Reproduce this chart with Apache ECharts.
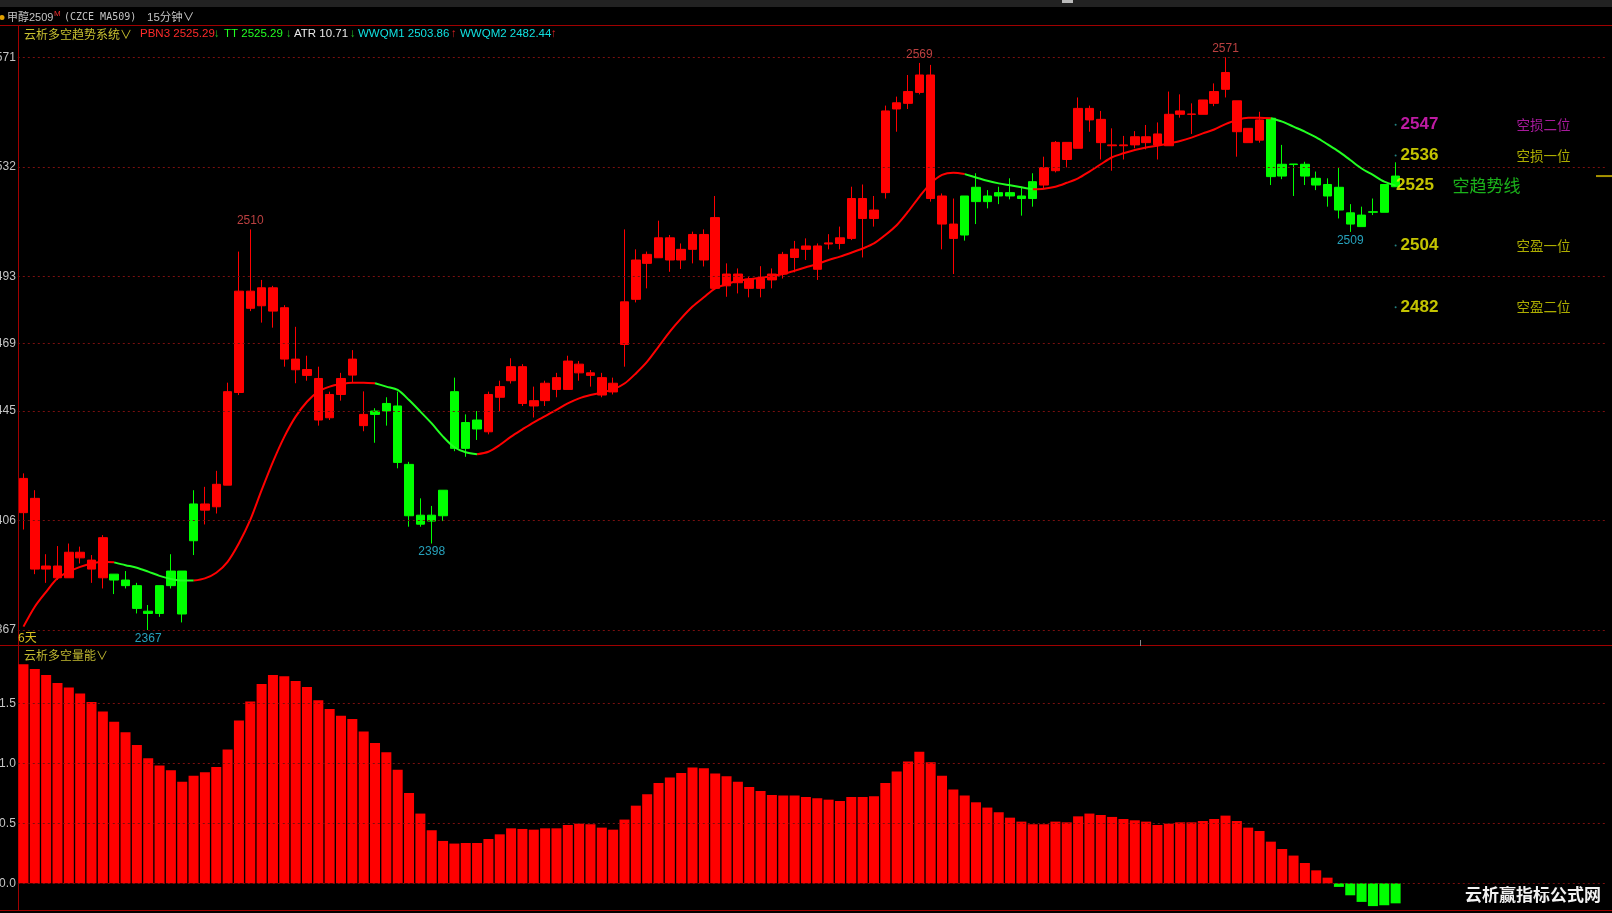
<!DOCTYPE html>
<html><head><meta charset="utf-8">
<script src="https://cdn.jsdelivr.net/npm/echarts@6/dist/echarts.min.js"></script>
<style>html,body{margin:0;padding:0;background:#000;overflow:hidden}#c{width:1612px;height:913px}</style>
</head><body><div id="c"></div>
<script>
// ---- data ----
const bodyHigh = [2421.0,2413.9,2389.8,2389.8,2394.7,2394.7,2391.9,2399.9,2386.9,2384.8,2382.8,2373.7,2382.8,2388.0,2388.0,2411.9,2411.9,2418.9,2451.9,2487.7,2487.7,2488.9,2488.9,2481.8,2463.5,2459.8,2456.6,2450.9,2456.6,2463.5,2443.8,2445.0,2447.7,2446.8,2426.0,2407.9,2407.9,2416.8,2451.9,2440.9,2441.8,2450.9,2453.7,2460.8,2460.8,2448.7,2454.9,2456.9,2462.8,2461.7,2458.6,2456.9,2454.9,2483.9,2498.8,2500.8,2506.7,2506.7,2502.6,2507.9,2507.9,2513.9,2493.8,2493.8,2492.0,2492.2,2493.8,2500.8,2502.7,2503.8,2503.8,2504.9,2506.7,2520.7,2520.7,2516.6,2551.9,2554.8,2558.8,2564.7,2564.7,2521.6,2511.6,2521.6,2524.7,2521.6,2522.8,2522.8,2521.6,2526.7,2531.7,2540.7,2540.7,2552.8,2552.8,2548.9,2539.8,2539.8,2542.7,2542.7,2543.7,2550.7,2551.9,2550.8,2555.8,2558.8,2565.6,2555.5,2545.7,2548.7,2549.3,2532.9,2533.0,2532.9,2527.9,2525.7,2524.7,2515.6,2514.8,2516.0,2525.7,2528.7];
const bodyLow = [2408.8,2388.7,2388.7,2385.6,2385.6,2392.7,2388.7,2385.6,2384.8,2382.8,2374.7,2372.9,2372.9,2382.8,2372.7,2398.8,2409.7,2410.9,2418.6,2451.6,2481.6,2482.5,2480.6,2463.5,2459.7,2457.7,2441.8,2442.6,2450.9,2457.8,2439.8,2443.8,2445.0,2426.7,2407.7,2404.7,2405.8,2407.7,2431.7,2431.7,2438.6,2437.6,2449.9,2455.8,2447.7,2446.8,2448.7,2452.7,2452.7,2458.6,2457.7,2450.7,2451.8,2468.7,2484.8,2497.6,2499.6,2498.8,2498.8,2502.6,2498.8,2488.7,2489.6,2490.7,2488.7,2488.7,2491.7,2493.8,2499.7,2502.6,2495.5,2504.5,2504.7,2506.5,2513.6,2513.6,2522.8,2552.6,2554.6,2558.5,2520.7,2511.6,2506.5,2507.7,2519.6,2519.6,2521.6,2521.6,2520.7,2520.7,2525.5,2530.6,2534.6,2538.6,2548.7,2540.6,2539.5,2539.5,2539.8,2540.6,2539.8,2539.5,2550.7,2550.7,2550.7,2554.6,2559.6,2544.5,2540.6,2541.5,2528.5,2528.7,2532.8,2528.7,2525.5,2521.6,2516.6,2511.6,2510.7,2515.8,2515.8,2524.9];
const high = [2422.8,2416.8,2394.0,2396.9,2397.8,2396.7,2393.7,2400.8,2386.9,2388.0,2383.8,2375.9,2382.8,2394.0,2388.0,2416.8,2418.0,2423.7,2455.1,2501.8,2509.7,2491.7,2489.6,2482.7,2475.0,2464.7,2460.8,2451.9,2458.6,2466.7,2452.0,2446.0,2449.9,2451.9,2426.9,2413.9,2411.2,2416.8,2456.9,2443.8,2445.0,2451.9,2455.8,2463.8,2461.7,2453.7,2455.8,2458.6,2464.7,2462.8,2459.6,2458.6,2456.9,2509.7,2502.6,2501.8,2512.8,2507.7,2504.7,2508.9,2509.7,2521.6,2497.6,2495.8,2492.8,2496.6,2495.8,2501.7,2505.6,2506.5,2504.7,2508.0,2510.7,2524.9,2525.7,2521.6,2553.8,2557.0,2564.7,2569.0,2568.3,2522.5,2520.7,2521.6,2529.7,2523.7,2524.9,2527.9,2524.9,2529.7,2535.6,2541.2,2540.7,2556.7,2553.8,2551.9,2545.7,2543.0,2544.7,2546.9,2547.8,2558.8,2557.8,2554.6,2555.8,2561.7,2571.0,2555.5,2545.7,2551.6,2549.3,2539.8,2533.0,2533.8,2530.3,2527.9,2531.8,2518.7,2517.8,2520.7,2525.7,2533.6];
const low = [2402.8,2386.9,2383.8,2384.8,2385.6,2390.7,2383.8,2381.8,2379.8,2381.8,2372.9,2367.0,2371.7,2381.8,2369.7,2393.7,2404.6,2408.5,2418.6,2450.7,2480.6,2476.5,2474.7,2460.8,2454.9,2455.8,2439.8,2441.8,2448.7,2455.1,2437.8,2433.7,2439.8,2424.6,2403.8,2403.8,2397.8,2405.8,2430.7,2428.7,2434.7,2436.7,2444.8,2454.8,2446.8,2442.7,2446.8,2449.9,2452.7,2455.8,2453.7,2449.9,2450.9,2460.8,2483.7,2488.7,2499.6,2494.6,2495.6,2497.6,2496.5,2488.7,2485.7,2486.9,2485.5,2485.5,2488.7,2492.2,2494.4,2498.8,2491.7,2502.6,2502.6,2505.9,2499.7,2510.7,2520.7,2544.5,2552.6,2557.8,2519.6,2502.6,2493.8,2505.7,2511.6,2517.2,2518.7,2520.4,2514.6,2517.8,2524.3,2530.0,2531.8,2538.6,2544.5,2534.6,2530.6,2534.6,2538.6,2538.2,2534.6,2539.5,2549.5,2543.7,2550.7,2553.6,2556.7,2535.6,2540.6,2540.6,2525.5,2527.6,2521.6,2525.5,2523.7,2517.8,2513.6,2508.8,2510.7,2514.8,2515.8,2524.9];
// 1 = bull state (red), 0 = bear state (green)
const trendUp = [1,1,1,1,1,1,1,1,0,0,0,0,0,0,0,0,1,1,1,1,1,1,1,1,1,1,1,1,1,1,1,0,0,0,0,0,0,0,0,0,0,1,1,1,1,1,1,1,1,1,1,1,1,1,1,1,1,1,1,1,1,1,1,1,1,1,1,1,1,1,1,1,1,1,1,1,1,1,1,1,1,1,1,0,0,0,0,0,0,0,1,1,1,1,1,1,1,1,1,1,1,1,1,1,1,1,1,1,1,1,0,0,0,0,0,0,0,0,0,0,0,0];
const trendLine = [2368.2,2375.3,2380.6,2385.4,2387.8,2389.5,2390.7,2391.3,2391.1,2390.1,2389.2,2387.8,2386.3,2385.2,2384.6,2384.6,2385.4,2387.4,2391.3,2397.9,2406.2,2416.8,2426.9,2435.8,2443.0,2448.3,2451.9,2453.7,2454.6,2455.1,2455.1,2454.9,2453.7,2452.5,2448.9,2444.8,2440.6,2435.9,2432.1,2430.3,2429.6,2430.5,2432.9,2435.9,2438.5,2441.0,2443.2,2445.4,2447.7,2449.5,2450.7,2451.6,2452.7,2454.8,2458.4,2462.6,2467.9,2473.3,2478.0,2482.2,2485.5,2488.7,2490.2,2491.4,2492.0,2492.5,2493.1,2493.8,2495.0,2496.2,2497.4,2498.8,2500.0,2501.4,2502.9,2504.7,2507.7,2511.2,2516.0,2521.3,2526.1,2529.1,2529.9,2529.4,2528.2,2527.0,2526.1,2525.4,2524.7,2524.0,2524.2,2524.9,2526.3,2527.9,2530.3,2532.9,2535.4,2536.8,2538.0,2538.9,2539.5,2540.3,2541.2,2542.4,2543.9,2545.3,2547.2,2548.7,2549.5,2549.5,2549.3,2548.1,2546.3,2544.5,2542.5,2540.0,2537.4,2534.4,2531.4,2529.1,2526.7,2525.3];
const energy = [1.825,1.786,1.736,1.669,1.631,1.581,1.511,1.431,1.347,1.258,1.153,1.042,0.981,0.942,0.847,0.897,0.925,0.969,1.114,1.356,1.514,1.661,1.736,1.725,1.686,1.636,1.525,1.453,1.397,1.369,1.264,1.169,1.092,0.947,0.753,0.581,0.442,0.353,0.331,0.336,0.336,0.369,0.408,0.458,0.453,0.447,0.458,0.458,0.486,0.497,0.492,0.464,0.447,0.531,0.647,0.742,0.836,0.881,0.919,0.964,0.958,0.914,0.892,0.847,0.803,0.769,0.736,0.731,0.731,0.719,0.708,0.697,0.686,0.719,0.719,0.725,0.836,0.931,1.014,1.097,1.008,0.897,0.781,0.731,0.675,0.631,0.592,0.547,0.514,0.492,0.492,0.514,0.508,0.558,0.581,0.569,0.553,0.536,0.525,0.514,0.486,0.497,0.508,0.508,0.519,0.536,0.564,0.519,0.464,0.436,0.347,0.286,0.231,0.169,0.108,0.047,-0.03,-0.10,-0.155,-0.19,-0.183,-0.167];
const priceTicks = [2367, 2406, 2445, 2469, 2493, 2532, 2571];
const energyTicks = [0, 0.5, 1.0, 1.5];
const levelValues = [2547, 2536, 2504, 2482];
const levelNames = ['空损二位', '空损一位', '空盈一位', '空盈二位'];
const trendName = '空趋势线';
const highMarkIdx = [20, 79, 106];
const lowMarkIdx = [11, 36, 117];
const slotCount = 140;

// ---- chart ----
const RED = '#ff0000', GREEN = '#00ff00';
const GRIDC = '#7a1010';
const LAT = '"Liberation Sans", Arial, "Noto Sans CJK SC", sans-serif';
const CJK = '"Noto Sans CJK SC", "Liberation Sans", sans-serif';
const cats = Array.from({length: slotCount}, (_, i) => String(i));

const candleData = bodyHigh.map((h, i) => {
  const c = trendUp[i] ? RED : GREEN;
  return {value: [bodyLow[i], h, low[i], high[i]],
    itemStyle: {color: c, color0: c, borderColor: c, borderColor0: c, borderColorDoji: c}};
});
const redLine = trendLine.map((v, i) => (trendUp[i] || trendUp[i - 1] || trendUp[i + 1]) ? v : '-');
const greenLine = trendLine.map((v, i) => trendUp[i] ? '-' : v);
const energyData = energy.map(v => ({value: v, itemStyle: {color: v >= 0 ? RED : GREEN}}));
const last = bodyHigh.length - 1;

const chart = echarts.init(document.getElementById('c'), null, {renderer: 'canvas'});
const option = {
  backgroundColor: '#000',
  animation: false,
  grid: [
    {left: 17.8, right: 6.6, top: 25, bottom: 268},
    {left: 17.8, right: 6.6, top: 646, bottom: 3}
  ],
  xAxis: [
    {type: 'category', data: cats, gridIndex: 0, show: false, boundaryGap: true},
    {type: 'category', data: cats, gridIndex: 1, show: false, boundaryGap: true}
  ],
  yAxis: [
    {type: 'value', gridIndex: 0, min: 2361.66, max: 2582.51, show: false},
    {type: 'value', gridIndex: 1, min: -0.2225, max: 1.9775, show: false}
  ],
  series: [
    {type: 'line', xAxisIndex: 0, yAxisIndex: 0, data: [], z: 1, silent: true,
      markLine: {symbol: 'none', silent: true, animation: false,
        lineStyle: {color: GRIDC, type: [2, 3], width: 1},
        label: {position: 'start', distance: 2, color: '#c4c4c4', fontSize: 12, fontFamily: LAT,
          formatter: p => String(p.value)},
        data: priceTicks.map(v => ({yAxis: v}))}},
    {type: 'line', xAxisIndex: 1, yAxisIndex: 1, data: [], z: 1, silent: true,
      markLine: {symbol: 'none', silent: true, animation: false,
        lineStyle: {color: GRIDC, type: [2, 3], width: 1},
        label: {position: 'start', distance: 2, color: '#c4c4c4', fontSize: 12, fontFamily: LAT,
          formatter: p => Number(p.value).toFixed(1)},
        data: energyTicks.map(v => ({yAxis: v}))}},
    {type: 'candlestick', xAxisIndex: 0, yAxisIndex: 0, data: candleData, barWidth: 9, z: 3,
      itemStyle: {borderWidth: 1}},
    {type: 'line', xAxisIndex: 0, yAxisIndex: 0, data: redLine, symbol: 'none', smooth: 0.3, z: 4,
      lineStyle: {color: RED, width: 2}},
    {type: 'line', xAxisIndex: 0, yAxisIndex: 0, data: greenLine, symbol: 'none', smooth: 0.3, z: 5,
      lineStyle: {color: '#22ff22', width: 2}},
    {type: 'scatter', xAxisIndex: 0, yAxisIndex: 0, symbolSize: 1, z: 6,
      itemStyle: {color: 'rgba(0,0,0,0)'},
      data: highMarkIdx.map(i => [i, high[i]]),
      label: {show: true, position: 'top', distance: 2, color: '#e85050', fontSize: 12, fontFamily: LAT,
        formatter: p => String(Math.round(p.value[1]))}},
    {type: 'scatter', xAxisIndex: 0, yAxisIndex: 0, symbolSize: 1, z: 6,
      itemStyle: {color: 'rgba(0,0,0,0)'},
      data: lowMarkIdx.map(i => [i, low[i]]),
      label: {show: true, position: 'bottom', distance: 2, color: '#30c8e8', fontSize: 12, fontFamily: LAT,
        formatter: p => String(Math.round(p.value[1]))}},
    {type: 'scatter', xAxisIndex: 0, yAxisIndex: 0, symbol: 'circle', symbolSize: 2, z: 7,
      itemStyle: {color: '#2aa0a0'},
      data: levelValues.map((v, i) => ({value: [last, v],
        label: {color: i === 0 ? '#ee22cc' : '#f4f400'}})),
      label: {show: true, position: 'right', distance: 4, fontSize: 17, fontWeight: 'bold', fontFamily: LAT,
        formatter: p => String(p.value[1])}},
    {type: 'scatter', xAxisIndex: 0, yAxisIndex: 0, symbolSize: 0, z: 7,
      itemStyle: {color: 'rgba(0,0,0,0)'},
      data: levelValues.map((v, i) => ({value: [last, v], name: levelNames[i],
        label: {color: i === 0 ? '#d020c0' : '#d8d800'}})),
      label: {show: true, position: 'right', distance: 121, fontSize: 13.5, fontFamily: CJK,
        formatter: p => p.name}},
    {type: 'scatter', xAxisIndex: 0, yAxisIndex: 0, symbolSize: 0, z: 7,
      itemStyle: {color: 'rgba(0,0,0,0)'},
      data: [[last, trendLine[last]]],
      label: {show: true, position: 'right', distance: 0.5, fontSize: 17, fontWeight: 'bold', fontFamily: LAT,
        color: '#f4f400', formatter: p => String(Math.round(p.value[1]))}},
    {type: 'scatter', xAxisIndex: 0, yAxisIndex: 0, symbolSize: 0, z: 7,
      itemStyle: {color: 'rgba(0,0,0,0)'},
      data: [[last, trendLine[last]]],
      label: {show: true, position: 'right', distance: 57, fontSize: 17, fontFamily: CJK,
        color: '#22dd22', formatter: () => trendName}},
    {type: 'bar', xAxisIndex: 1, yAxisIndex: 1, data: energyData, barWidth: 10, z: 3}
  ]
};
chart.setOption(option);

// ---- decorations ----
const lastY = chart.convertToPixel({yAxisIndex: 0}, bodyHigh[last]);
const legendParts = [
  {x: 24, t: '云析多空趋势系统∨', c: '#c8c030', f: CJK},
  {x: 140, t: 'PBN3 2525.29', c: '#ff2a2a'},
  {x: 214, t: '↓', c: '#22cc22'},
  {x: 224, t: 'TT 2525.29', c: '#22ff22'},
  {x: 286, t: '↓', c: '#22cc22'},
  {x: 294, t: 'ATR 10.71', c: '#e8e8e8'},
  {x: 350, t: '↓', c: '#22cc22'},
  {x: 358, t: 'WWQM1 2503.86', c: '#10e0e0'},
  {x: 451, t: '↑', c: '#dd2222'},
  {x: 460, t: 'WWQM2 2482.44', c: '#10e0e0'},
  {x: 551, t: '↑', c: '#dd2222'}
];
const txt = (x, y, t, fill, size, family, weight) => ({type: 'text', x, y, silent: true, z: 10,
  style: {text: t, fill, font: (weight || 'normal') + ' ' + size + 'px ' + (family || LAT), textVerticalAlign: 'middle', verticalAlign: 'middle'}});
const line = (x1, y1, x2, y2, stroke, w) => ({type: 'line', silent: true,
  shape: {x1, y1, x2, y2}, style: {stroke, lineWidth: w || 1}});
const g = [
  {type: 'rect', silent: true, shape: {x: 0, y: 0, width: 1612, height: 7}, style: {fill: '#222'}},
  {type: 'rect', silent: true, shape: {x: 1062, y: 0, width: 11, height: 3}, style: {fill: '#bbb'}},
  {type: 'circle', silent: true, shape: {cx: 2, cy: 17.5, r: 2.5}, style: {fill: '#e0a000'}},
  txt(7, 17.5, '甲醇2509', '#c4c4c4', 11, LAT),
  txt(54, 13.5, 'M', '#ee3030', 8, LAT),
  txt(64, 17.5, '(CZCE MA509)', '#c4c4c4', 10, '"DejaVu Sans Mono", monospace'),
  txt(147, 17.5, '15分钟∨', '#c4c4c4', 11.5, LAT),
  line(0, 25.5, 1612, 25.5, '#a00000'),
  line(0, 645.5, 1612, 645.5, '#a00000'),
  line(0, 910.5, 1612, 910.5, '#a00000'),
  line(18.5, 25, 18.5, 911, '#a00000'),
  line(1140.5, 640, 1140.5, 646, '#888'),
  line(1596, lastY, 1612, lastY, '#a89400', 2),
  txt(18, 637, '6天', '#d8c020', 12, CJK),
  txt(24, 655, '云析多空量能∨', '#c0b830', 12, CJK),
  txt(1465, 895, '云析赢指标公式网', '#f2f2f2', 17, CJK, 'bold')
];
legendParts.forEach(p => g.push(txt(p.x, 34, p.t, p.c, p.f ? 12 : 11.5, p.f || LAT)));
chart.setOption({graphic: g});
</script>
</body></html>
